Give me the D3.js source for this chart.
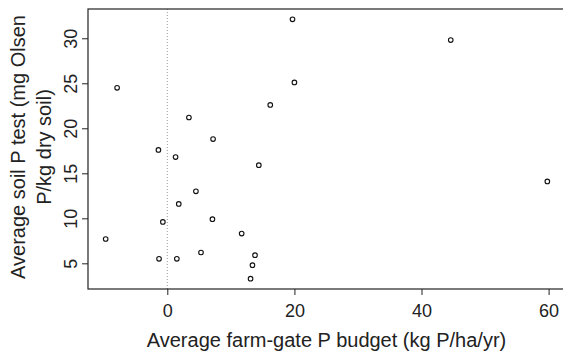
<!DOCTYPE html>
<html>
<head>
<meta charset="utf-8">
<script src="https://cdn.jsdelivr.net/npm/d3@7"></script>
<style>
  body { margin: 0; background: #fff; }
  svg { display: block; font-family: "Liberation Sans", Arial, sans-serif; }
</style>
</head>
<body>
<svg width="563" height="352"></svg>
<script>
// farm-gate P budget (x) and soil Olsen P (y)
const budget = [-7.9, 3.4, -1.4, 1.3, 4.5, 1.8, -0.7, -9.7, -1.3, 1.5,
                19.7, 20.0, 16.2, 7.2, 14.4, 44.6, 7.1, 11.7, 5.3, 13.8,
                13.4, 13.1, 59.8];
const soilP = [24.5, 21.2, 17.6, 16.8, 13.0, 11.6, 9.6, 7.7, 5.5, 5.5,
               32.1, 25.1, 22.6, 18.8, 15.9, 29.8, 9.9, 8.3, 6.2, 5.9,
               4.8, 3.3, 14.1];
const xTicks = [0, 20, 40, 60];
const yTicks = [5, 10, 15, 20, 25, 30];
const xTitle = "Average farm-gate P budget (kg P/ha/yr)";
const yTitle = ["Average soil P test (mg Olsen", "P/kg dry soil)"];

const svg = d3.select('svg');
const margin = {"left": 88, "top": 9};
const width = 477;
const height = 280;

const data = budget.map((b, i) => ({x: b, y: soilP[i]}));

// R style: pad the data range by 4% each side
const pad = (ext) => { const r = ext[1] - ext[0]; return [ext[0] - 0.04 * r, ext[1] + 0.04 * r]; };

const xScale = d3.scaleLinear()
    .domain(pad(d3.extent(budget)))
    .range([margin.left, margin.left + width]);

const yScale = d3.scaleLinear()
    .domain(pad(d3.extent(soilP)))
    .range([margin.top + height, margin.top]);

// dotted reference line at zero budget
svg.append("line")
    .attr("x1", xScale(0)).attr("x2", xScale(0))
    .attr("y1", margin.top).attr("y2", margin.top + height)
    .attr("stroke", "#999")
    .attr("stroke-width", 1)
    .attr("stroke-dasharray", "1,2");

// x axis
const xAxis = svg.append("g")
    .attr("transform", "translate(0," + (margin.top + height) + ")")
    .call(d3.axisBottom(xScale).tickValues(xTicks).tickSize(6).tickFormat(d3.format("d")));
xAxis.select(".domain").remove();
xAxis.selectAll("line").attr("stroke", "#222");
xAxis.selectAll("text")
    .attr("y", 27.5).attr("dy", null)
    .attr("font-size", 18)
    .attr("font-family", "Liberation Sans, Arial, sans-serif")
    .attr("fill", "#222");

// y axis, labels turned like R's default
const yAxis = svg.append("g")
    .attr("transform", "translate(" + margin.left + ",0)")
    .call(d3.axisLeft(yScale).tickValues(yTicks).tickSize(6).tickFormat(d3.format("d")));
yAxis.select(".domain").remove();
yAxis.selectAll("line").attr("stroke", "#222");
yAxis.selectAll("text")
    .attr("x", null).attr("dy", null)
    .attr("text-anchor", "middle")
    .attr("transform", "translate(-11.3,0) rotate(-90)")
    .attr("font-size", 18)
    .attr("font-family", "Liberation Sans, Arial, sans-serif")
    .attr("fill", "#222");

// box (left, top, bottom; right side falls off the page)
svg.append("rect")
    .attr("x", margin.left).attr("y", margin.top)
    .attr("width", width).attr("height", height)
    .attr("fill", "none")
    .attr("stroke", "#222")
    .attr("stroke-width", 1.2);

// points
svg.append("g")
    .selectAll("circle")
    .data(data)
    .enter()
    .append("circle")
    .attr("cx", d => xScale(d.x))
    .attr("cy", d => yScale(d.y))
    .attr("r", 2.3)
    .attr("fill", "none")
    .attr("stroke", "#111")
    .attr("stroke-width", 1.1);

// axis titles
svg.append("text")
    .attr("x", margin.left + width / 2)
    .attr("y", 347.3)
    .attr("text-anchor", "middle")
    .attr("font-size", 20)
    .attr("fill", "#222")
    .text(xTitle);

svg.append("g")
    .attr("transform", "translate(0," + (margin.top + height / 2 - 2) + ") rotate(-90)")
    .selectAll("text")
    .data(yTitle)
    .enter()
    .append("text")
    .attr("x", 0)
    .attr("y", (d, i) => 25 + i * 26)
    .attr("text-anchor", "middle")
    .attr("font-size", 20)
    .attr("fill", "#222")
    .text(d => d);
</script>
</body>
</html>
